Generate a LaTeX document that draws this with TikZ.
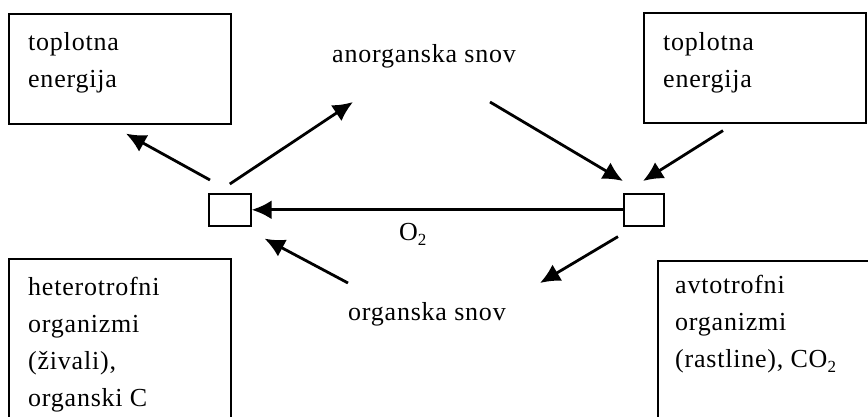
\documentclass[tikz,border=0pt]{standalone}
\usepackage{fontspec}
\setmainfont{Liberation Serif}
\newfontfamily\labfont{Liberation Serif}[LetterSpace=3]
\usetikzlibrary{arrows.meta,calc}
\begin{document}
\begin{tikzpicture}[x=1pt,y=-1pt,
  frame/.style={draw,line width=1.6pt,inner sep=0pt,anchor=north west},
  sq/.style={draw,line width=1.6pt,inner sep=0pt,anchor=north west,minimum width=42pt,minimum height=32pt},
  txt/.style={inner sep=0pt,align=left,anchor=north west,font=\labfont\fontsize{26}{37}\selectfont},
  lbl/.style={inner sep=0pt,anchor=base west,font=\labfont\fontsize{26}{37}\selectfont},
  tip/.style={-{Latex[length=20pt,width=19pt]}},
  arr/.style={line width=2.8pt,tip}]
\useasboundingbox (0,0) rectangle (868,416);
\clip (0,0) rectangle (868,416);
% boxes
\node[frame,minimum width=222pt,minimum height=110pt] (tl) at (8,13) {};
\node[frame,minimum width=222pt,minimum height=110pt] (tr) at (643,12) {};
\node[frame,minimum width=222pt,minimum height=220pt] (bl) at (8,258) {};
\node[frame,minimum width=260pt,minimum height=220pt] (br) at (657,260) {};
% box texts
\node[txt] (tlt) at (28,24.1) {\strut toplotna\\energija};
\node[txt] (trt) at (663,24.1) {\strut toplotna\\energija};
\node[txt] (blt) at (28,269.1) {\strut heterotrofni\\organizmi\\(živali),\\organski C};
\node[txt] (brt) at (675,267) {\strut avtotrofni\\organizmi\\(rastline), CO\raisebox{-5pt}{\fontsize{17}{17}\selectfont 2}};
% small squares
\node[sq] (ls) at (208,193) {};
\node[sq,minimum width=40pt] (rs) at (623,193) {};
% labels
\node[lbl] (an) at (332,62) {anorganska snov};
\node[lbl] (org) at (348,320) {organska snov};
\node[lbl] (o2) at (399,240) {O\raisebox{-5pt}{\fontsize{17}{17}\selectfont 2}};
% arrows
\draw[line width=3.2pt,tip] (rs.west) -- (ls.east);
\draw[arr] ($(ls.north west)+(2,-13)$) -- ($(tl.south west)+(118,9)$);
\draw[arr] ($(ls.north)+(0,-9)$) -- ($(an.base west)+(21,40)$);
\draw[arr] ($(an.base west)+(158,40)$) -- ($(rs.north west)+(0,-12)$);
\draw[arr] ($(tr.south west)+(80,7)$) -- ($(rs.north west)+(20,-12)$);
\draw[arr] ($(rs.south west)+(-5,10)$) -- ($(org.base west)+(192,-37)$);
\draw[arr] ($(org.base west)+(0,-37)$) -- ($(ls.south east)+(13,12)$);
\end{tikzpicture}
\end{document}
